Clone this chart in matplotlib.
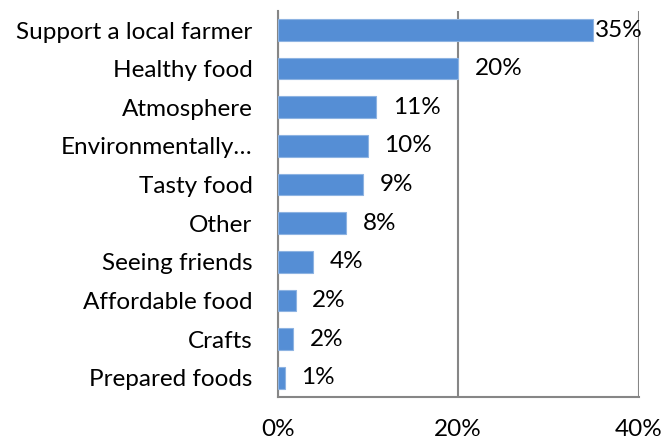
import matplotlib.pyplot as plt
import numpy as np

# reasons for visiting, top to bottom
categories = [
    "Support a local farmer",
    "Healthy food",
    "Atmosphere",
    "Environmentally\u2026",
    "Tasty food",
    "Other",
    "Seeing friends",
    "Affordable food",
    "Crafts",
    "Prepared foods",
]
values = [34.9, 20.0, 10.9, 10.0, 9.5, 7.6, 3.9, 2.0, 1.7, 0.8]
value_labels = ["35%", "20%", "11%", "10%", "9%", "8%", "4%", "2%", "2%", "1%"]
x_ticks = [0, 20, 40]
x_tick_labels = ["0%", "20%", "40%"]

plt.rcParams["font.family"] = ["Lato", "DejaVu Sans"]
fs = 17.5

fig = plt.figure(figsize=(6.61, 4.40), dpi=100)
ax = fig.add_axes([0.420, 0.0977, 0.546, 0.878])

y = np.arange(len(categories))
ax.barh(y, values, height=0.56, color="#558ed5", edgecolor="#8db3e2", linewidth=0.8, zorder=3)

ax.set_xlim(0, 40)
ax.set_ylim(len(categories) - 0.5, -0.5)

for i, (v, lab) in enumerate(zip(values, value_labels)):
    off = 2 if v > 30 else 12
    ax.annotate(lab, (v, i), xytext=(off, 0), textcoords="offset points",
                va="center", ha="left", fontsize=fs, color="#000000")

ax.set_yticks(y)
ax.set_yticklabels(categories, fontsize=fs)
ax.set_xticks(x_ticks)
ax.set_xticklabels(x_tick_labels, fontsize=fs)
ax.tick_params(axis="y", length=0, pad=18)
ax.tick_params(axis="x", length=0, pad=16)

ax.grid(axis="x", color="#868686", linewidth=1.5, zorder=0)
for side in ["top", "right"]:
    ax.spines[side].set_visible(False)
for side in ["left", "bottom"]:
    ax.spines[side].set_color("#868686")
    ax.spines[side].set_linewidth(1.5)

fig.savefig("out.png", dpi=100)
